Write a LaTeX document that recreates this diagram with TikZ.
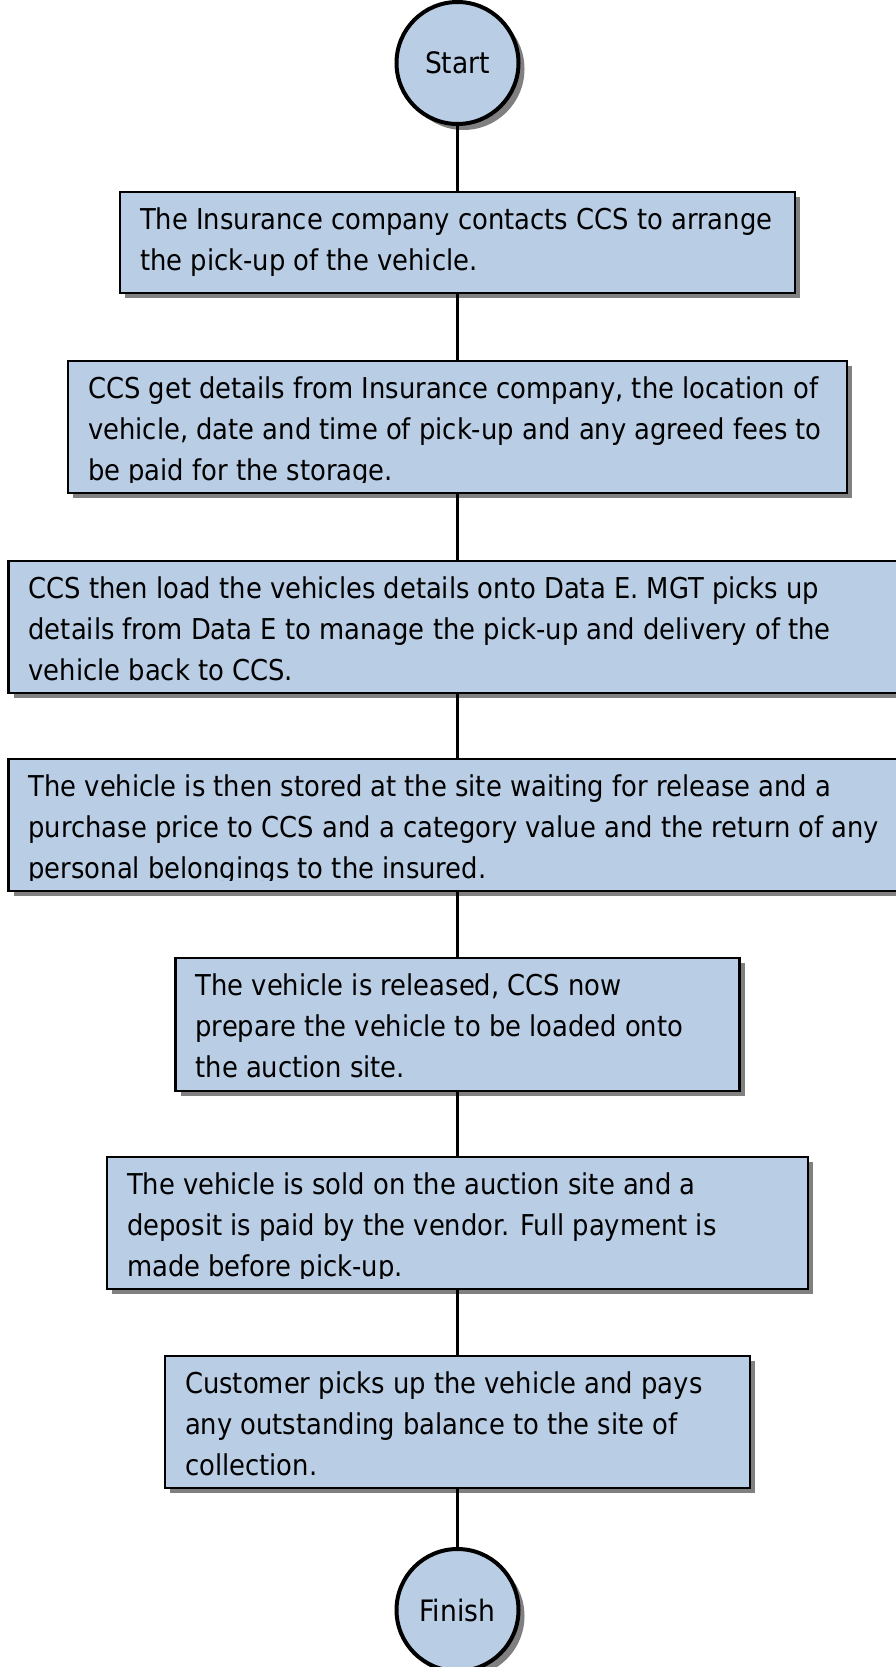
\documentclass[tikz,border=0pt]{standalone}
\usepackage{fontspec}
\setmainfont{DejaVu Sans Condensed}
\usetikzlibrary{calc,shadows}

\definecolor{boxfill}{RGB}{185,205,229}
\definecolor{shadegray}{RGB}{128,128,128}

\tikzset{
  x=1pt, y=-1pt,
  boxshadow/.style={drop shadow={shadow xshift=5pt, shadow yshift=-5pt,
      fill=shadegray, opacity=1}},
  procbox/.style={draw=black, line width=2.2pt, fill=boxfill, boxshadow,
      rectangle, inner sep=0pt, anchor=north},
  termcircle/.style={draw=black, line width=4pt, fill=boxfill, circle,
      minimum size=122pt, inner sep=0pt,
      drop shadow={shadow xshift=6pt, shadow yshift=-6pt, fill=shadegray, opacity=1},
      font=\fontsize{29.5pt}{34pt}\selectfont},
  txtline/.style={inner sep=0pt, anchor=base west,
      font=\fontsize{28.7pt}{41pt}\selectfont},
  link/.style={draw=black, line width=3.2pt},
}

% places the lines of a box, clipped just under the last baseline
\newcommand{\boxtext}[2]{%
  \begin{scope}
    \clip ($(#1.south west)+(0,-12)$) rectangle (#1.north east);
    \foreach \t [count=\i from 0] in {#2}
      \node[txtline] (#1-\i) at ($(#1.north west)+(21,38+41*\i)$) {\t};
  \end{scope}}

\begin{document}
\begin{tikzpicture}
  \useasboundingbox (0,0) rectangle (895,1667);

  % terminals
  \node[termcircle] (start) at (457.5,63) {Start};
  \node[termcircle] (finish) at (457.5,1610) {Finish};

  % process steps
  \node[procbox, minimum width=675pt, minimum height=101pt] (b1) at (457.5,191) {};
  \node[procbox, minimum width=779pt, minimum height=132pt] (b2) at (457.5,360) {};
  \node[procbox, minimum width=898pt, minimum height=132pt] (b3) at (457.5,560) {};
  \node[procbox, minimum width=898pt, minimum height=132pt] (b4) at (457.5,758) {};
  \node[procbox, minimum width=564pt, minimum height=133pt] (b5) at (457.5,957) {};
  \node[procbox, minimum width=701pt, minimum height=132pt] (b6) at (457.5,1156) {};
  \node[procbox, minimum width=585pt, minimum height=132pt] (b7) at (457.5,1355) {};

  \boxtext{b1}{{The Insurance company contacts CCS to arrange},
               {the pick-up of the vehicle.}}
  \boxtext{b2}{{CCS get details from Insurance company, the location of},
               {vehicle, date and time of pick-up and any agreed fees to},
               {be paid for the storage.}}
  \boxtext{b3}{{CCS then load the vehicles details onto Data E. MGT picks up},
               {details from Data E to manage the pick-up and delivery of the},
               {vehicle back to CCS.}}
  \boxtext{b4}{{The vehicle is then stored at the site waiting for release and a},
               {purchase price to CCS and a category value and the return of any},
               {personal belongings to the insured.}}
  \boxtext{b5}{{The vehicle is released, CCS now},
               {prepare the vehicle to be loaded onto},
               {the auction site.}}
  \boxtext{b6}{{The vehicle is sold on the auction site and a},
               {deposit is paid by the vendor. Full payment is},
               {made before pick-up.}}
  \boxtext{b7}{{Customer picks up the vehicle and pays},
               {any outstanding balance to the site of},
               {collection.}}

  % connectors
  \draw[link] (start.south) -- (b1.north);
  \draw[link] (b1.south) -- (b2.north);
  \draw[link] (b2.south) -- (b3.north);
  \draw[link] (b3.south) -- (b4.north);
  \draw[link] (b4.south) -- (b5.north);
  \draw[link] (b5.south) -- (b6.north);
  \draw[link] (b6.south) -- (b7.north);
  \draw[link] (b7.south) -- (finish.north);
\end{tikzpicture}
\end{document}
